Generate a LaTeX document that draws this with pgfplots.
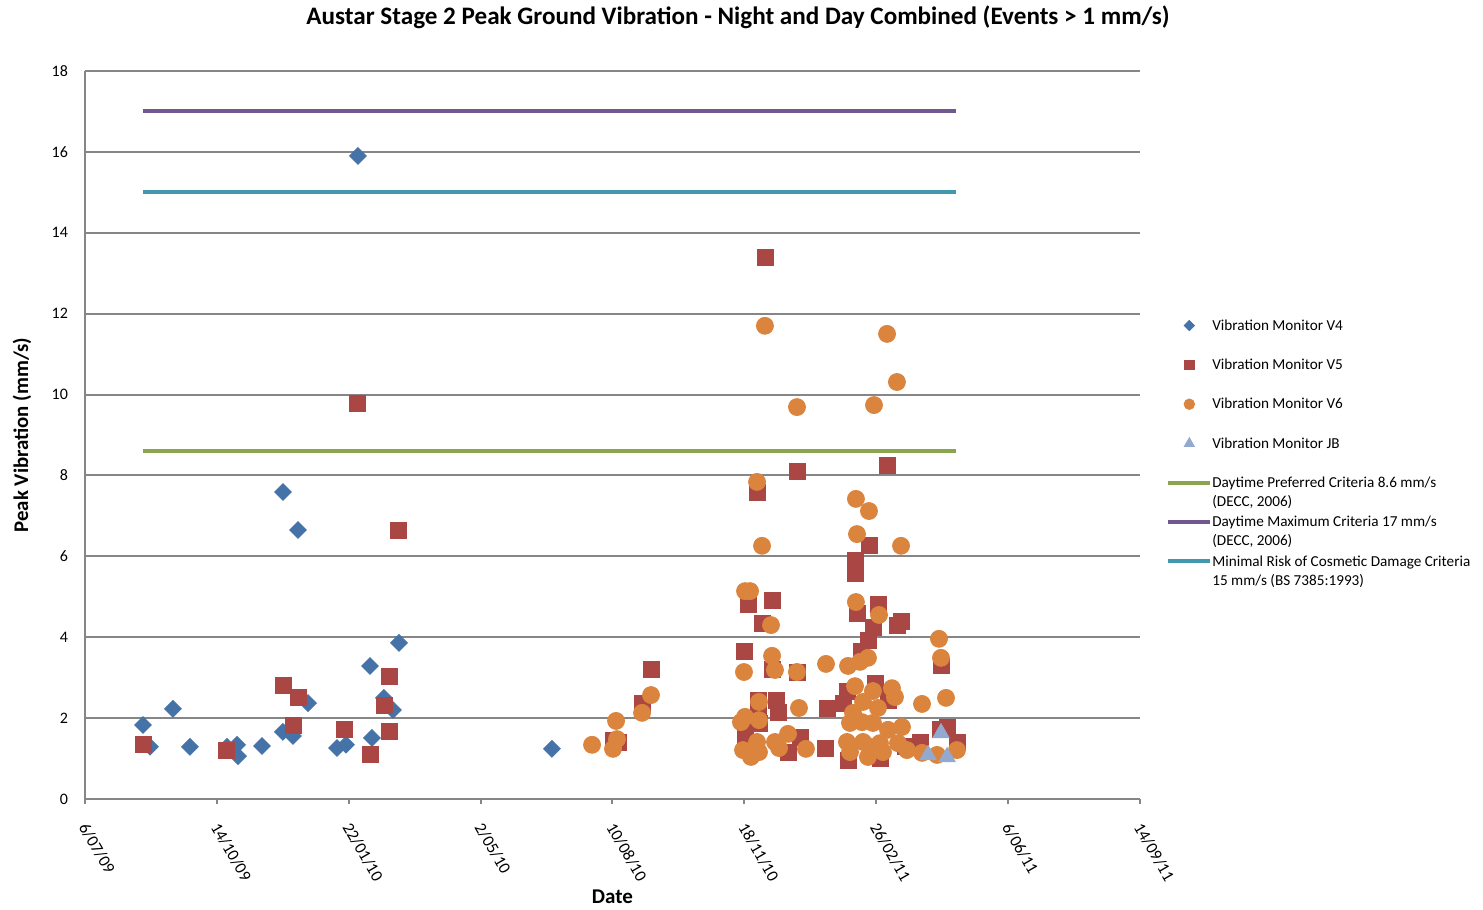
\documentclass[border=0pt]{standalone}
\usepackage{fontspec}
\setmainfont{Carlito}
\usepackage{graphicx}
\usepackage{pgfplots}
\pgfplotsset{compat=1.18}
\definecolor{cVfour}{HTML}{4572A7}
\definecolor{cVfive}{HTML}{AA4643}
\definecolor{cVsix}{HTML}{DB843D}
\definecolor{cJB}{HTML}{93A9CF}
\definecolor{cGreen}{HTML}{89A54E}
\definecolor{cPurple}{HTML}{71588F}
\definecolor{cTeal}{HTML}{4198AF}
\definecolor{gridgray}{HTML}{868686}
\newcommand{\legtwo}[2]{\vtop{\hbox{\strut #1}\hbox{\strut #2}}}
\pgfplotsset{
  markleg/.style={legend image code/.code={\draw[mark repeat=2,mark phase=2,##1,every mark/.append style={scale=0.62}] plot coordinates {(0pt,2.4pt) (10.5pt,2.4pt) (21pt,2.4pt)};}},
  lineleg/.style={legend image code/.code={\draw[##1] (0pt,2.4pt) -- (21pt,2.4pt);}},
}
\begin{document}
\begin{tikzpicture}
\path[use as bounding box] (0,0) rectangle (741.5pt,455pt);
\begin{axis}[
  at={(42.5pt,55.5pt)}, anchor=south west,
  scale only axis, width=527.5pt, height=364pt,
  xmin=0, xmax=800, ymin=0, ymax=18,
  xtick={0,100,...,800},
  xticklabels={6/07/09,14/10/09,22/01/10,2/05/10,10/08/10,18/11/10,26/02/11,6/06/11,14/09/11},
  ytick={0,2,...,18},
  axis lines=left,
  axis line style={-, draw=gridgray, line width=1pt},
  ymajorgrids, grid style={draw=gridgray, line width=1pt},
  tick align=outside,
  major tick length=2.5pt,
  ytick style={draw=none},
  xtick style={draw=gridgray, line width=1pt},
  /pgf/number format/assume math mode=true,
  yticklabel style={font=\fontsize{8}{9}\selectfont, xshift=-2.5pt},
  xticklabel style={font=\fontsize{8.4}{10}\selectfont, inner sep=0pt, anchor=west, xshift=-1pt, yshift=-10pt, rotate=-60},
  xlabel={Date},
  ylabel={Peak Vibration (mm/s)},
  xlabel style={font=\bfseries\fontsize{10.5}{12}\selectfont, at={(axis description cs:0.5,-0.1346)}, anchor=center},
  ylabel style={font=\bfseries\fontsize{10.4}{12}\selectfont, at={(axis description cs:-0.0597,0.5)}, anchor=center},
  legend style={at={(axis description cs:1.0246,0.668)}, anchor=north west,
    draw=none, fill=none, inner sep=0pt, row sep=7.5pt, column sep=-2pt,
    font=\fontsize{7.6}{9.5}\selectfont,
    cells={anchor=base west, inner sep=0pt}},
]
% V4
\addplot[only marks, color=cVfour, mark=square*, mark size=2.95pt, mark options={rotate=45}, markleg] coordinates {
(44.0,1.83) (49.3,1.29) (66.7,2.23) (79.6,1.29) (107.7,1.29) (115.3,1.34) (116.0,1.06)
(134.2,1.31) (150.1,1.66) (157.7,1.56) (169.1,2.37) (191.1,1.26) (197.9,1.34) (216.1,3.29)
(217.6,1.51) (226.7,2.50) (233.6,2.20) (238.1,3.86) (150.1,7.59) (161.5,6.65) (207.0,15.9)
(354.1,1.24)
};
\addlegendentry{\legtwo{Vibration Monitor V4}{}}
% V5
\addplot[only marks, color=cVfive, mark=square*, mark size=4pt, markleg] coordinates {
(44.0,1.34) (106.9,1.21) (150.1,2.82) (161.5,2.50) (157.7,1.83) (196.4,1.71) (216.1,1.11)
(230.5,3.04) (226.7,2.32) (230.5,1.66) (206.3,9.77) (237.3,6.65) (515.6,13.40)
(429.2,3.21) (422.4,2.37) (400.4,1.46) (404.2,1.41)
(539.9,8.09) (509.6,7.57) (502.8,4.82) (521.0,4.92) (513.4,4.35) (499.7,3.66) (521.0,3.21)
(539.9,3.14) (510.3,2.45) (524.0,2.45) (525.5,2.13) (562.7,2.25) (500.5,1.71) (500.5,1.41)
(510.3,2.27) (511.1,1.88) (542.2,1.53) (533.1,1.16) (561.1,1.26)
(608.2,8.26) (594.5,6.28) (583.9,5.91) (583.9,5.59) (585.4,4.60) (601.3,4.80) (597.5,4.25)
(615.7,4.30) (618.8,4.38) (593.7,3.93) (588.4,3.64) (649.1,3.31) (599.1,2.87) (577.8,2.65)
(608.9,2.45) (574.8,2.37) (648.3,1.71) (653.7,1.78) (578.6,0.96) (602.8,1.01) (633.2,1.41)
(621.8,1.29) (661.2,1.41)
};
\addlegendentry{\legtwo{Vibration Monitor V5}{}}
% V6
\addplot[only marks, color=cVsix, mark=*, mark size=4.25pt, markleg] coordinates {
(429.2,2.57) (422.4,2.13) (402.7,1.93) (403.4,1.48) (400.4,1.24) (384.5,1.34)
(509.6,7.84) (513.4,6.26) (500.5,5.14) (504.3,5.14) (520.2,4.30) (521.0,3.54) (499.7,3.14)
(523.2,3.19) (539.9,3.14) (561.9,3.34) (511.1,2.40) (541.4,2.25) (497.4,1.90) (500.5,2.03)
(511.1,1.95) (509.6,1.41) (499.0,1.21) (505.0,1.04) (511.1,1.16) (533.1,1.61) (523.2,1.41)
(526.3,1.26) (546.7,1.24)
(515.6,11.70) (608.2,11.50) (615.7,10.31) (539.9,9.69) (598.3,9.74)
(584.6,7.42) (594.5,7.12) (585.4,6.55) (618.8,6.26) (584.6,4.87) (602.1,4.55) (647.6,3.96)
(593.7,3.49) (587.7,3.39) (578.6,3.29) (649.1,3.49) (583.9,2.79) (597.5,2.67) (611.9,2.74)
(614.2,2.52) (590.0,2.40) (634.7,2.35) (652.9,2.50) (601.3,2.25) (582.4,2.13) (580.1,1.88)
(589.2,1.90) (597.5,1.88) (619.5,1.78) (608.9,1.71) (577.8,1.41) (590.0,1.41) (602.8,1.38)
(616.5,1.38) (580.1,1.16) (595.3,1.29) (605.1,1.16) (623.3,1.21) (634.7,1.14) (646.1,1.09)
(661.2,1.21) (593.7,1.04)
};
\addlegendentry{\legtwo{Vibration Monitor V6}{}}
% JB
\addplot[only marks, color=cJB, mark=triangle*, mark size=4.7pt, markleg] coordinates {
(649.1,1.63) (639.3,1.09) (653.7,1.04)
};
\addlegendentry{\legtwo{Vibration Monitor JB}{}}
\addplot[cGreen, line width=2pt, lineleg] coordinates {(44.0,8.6) (660.5,8.6)};
\addlegendentry{\legtwo{Daytime Preferred Criteria 8.6 mm/s}{(DECC, 2006)}}
\addplot[cPurple, line width=2pt, lineleg] coordinates {(44.0,17) (660.5,17)};
\addlegendentry{\legtwo{Daytime Maximum Criteria 17 mm/s}{(DECC, 2006)}}
\addplot[cTeal, line width=2pt, lineleg] coordinates {(44.0,15) (660.5,15)};
\addlegendentry{\legtwo{Minimal Risk of Cosmetic Damage Criteria}{15 mm/s (BS 7385:1993)}}
\end{axis}
\node at (369pt,446.5pt) {\resizebox{431.5pt}{!}{\bfseries Austar Stage 2 Peak Ground Vibration - Night and Day Combined (Events > 1 mm/s)}};
\end{tikzpicture}
\end{document}
